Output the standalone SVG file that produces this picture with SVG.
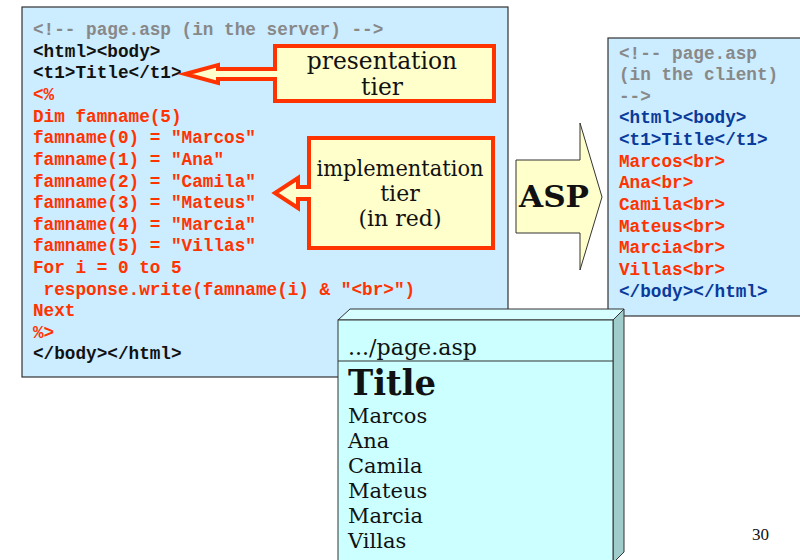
<svg xmlns="http://www.w3.org/2000/svg" width="800" height="560" viewBox="0 0 800 560">
<style>
.panel{fill:#CCECFF;stroke:#333;stroke-width:1.2}
.code{font-family:"Liberation Mono",monospace;font-weight:bold;font-size:17.7px}
.gray{fill:#888}
.blk{fill:#111}
.red{fill:#FF3300}
.blue{fill:#0A3A9A}
.callout{fill:#FFFFCC;stroke:#FF3300;stroke-width:4;stroke-linejoin:miter}
.ser{font-family:"DejaVu Serif","Liberation Serif",serif;fill:#111}
</style>
<rect width="800" height="560" fill="#fff"/>
<g id="server-panel">
<rect class="panel" x="22" y="7" width="486" height="370"/>
<g class="code">
<text x="33" y="35" class="gray">&lt;!-- page.asp (in the server) --&gt;</text>
<text x="33" y="57" class="blk">&lt;html&gt;&lt;body&gt;</text>
<text x="33" y="78" class="blk">&lt;t1&gt;Title&lt;/t1&gt;</text>
<text x="33" y="100" class="red">&lt;%</text>
<text x="33" y="122" class="red">Dim famname(5)</text>
<text x="33" y="143" class="red">famname(0) = "Marcos"</text>
<text x="33" y="165" class="red">famname(1) = "Ana"</text>
<text x="33" y="187" class="red">famname(2) = "Camila"</text>
<text x="33" y="208" class="red">famname(3) = "Mateus"</text>
<text x="33" y="230" class="red">famname(4) = "Marcia"</text>
<text x="33" y="251" class="red">famname(5) = "Villas"</text>
<text x="33" y="273" class="red">For i = 0 to 5</text>
<text x="33" y="295" class="red" xml:space="preserve"> response.write(famname(i) &amp; "&lt;br&gt;")</text>
<text x="33" y="316" class="red">Next</text>
<text x="33" y="338" class="red">%&gt;</text>
<text x="33" y="359" class="blk">&lt;/body&gt;&lt;/html&gt;</text>
</g>
</g>
<g id="client-panel">
<rect class="panel" x="608" y="38" width="200" height="278"/>
<g class="code">
<text x="619" y="59" class="gray">&lt;!-- page.asp</text>
<text x="619" y="80" class="gray">(in the client)</text>
<text x="619" y="102" class="gray">--&gt;</text>
<text x="619" y="123" class="blue">&lt;html&gt;&lt;body&gt;</text>
<text x="619" y="145" class="blue">&lt;t1&gt;Title&lt;/t1&gt;</text>
<text x="619" y="167" class="red">Marcos&lt;br&gt;</text>
<text x="619" y="188" class="red">Ana&lt;br&gt;</text>
<text x="619" y="210" class="red">Camila&lt;br&gt;</text>
<text x="619" y="232" class="red">Mateus&lt;br&gt;</text>
<text x="619" y="253" class="red">Marcia&lt;br&gt;</text>
<text x="619" y="275" class="red">Villas&lt;br&gt;</text>
<text x="619" y="297" class="blue">&lt;/body&gt;&lt;/html&gt;</text>
</g>
</g>
<g id="connectors">
<g id="presentation-tier">
<path class="callout" d="M275,46 H494 V101 H275 V79 H218 V83 L185,74 L218,65 V69 H275 Z"/>
<text class="ser" x="382" y="69" font-size="23.4" text-anchor="middle">presentation</text>
<text class="ser" x="382" y="95" font-size="23.4" text-anchor="middle">tier</text>
</g>
<g id="implementation-tier">
<path class="callout" d="M309,138 H493 V248 H309 V199 H298 V208 L275,193 L298,178 V187 H309 Z"/>
<text class="ser" x="400" y="176" font-size="22" text-anchor="middle" textLength="167" lengthAdjust="spacingAndGlyphs">implementation</text>
<text class="ser" x="400" y="201" font-size="22" text-anchor="middle">tier</text>
<text class="ser" x="400" y="226" font-size="22" text-anchor="middle">(in red)</text>
</g>
<g id="asp-arrow">
<path d="M516,160 H580 V123 L602,197 L580,270 V233 H516 Z" fill="#FFFFCC" stroke="#333" stroke-width="1"/>
<text class="ser" x="519" y="207" font-size="30" font-weight="bold" textLength="70" lengthAdjust="spacingAndGlyphs">ASP</text>
</g>
</g>
<g id="browser">
<path d="M338,320 L350,309 H624 L613,320 Z" fill="#D8FFFF" stroke="#333" stroke-width="1"/>
<path d="M613,320 L624,309 V552 L613,563 Z" fill="#A0CCCC" stroke="#333" stroke-width="1"/>
<rect x="338" y="320" width="275" height="245" fill="#CCFFFF" stroke="#333" stroke-width="1"/>
<line x1="338" y1="361" x2="613" y2="361" stroke="#333" stroke-width="1"/>
<text class="ser" x="348" y="355" font-size="22" textLength="129" lengthAdjust="spacingAndGlyphs">.../page.asp</text>
<text class="ser" x="348" y="395" font-size="36" font-weight="bold" textLength="88" lengthAdjust="spacingAndGlyphs">Title</text>
<text class="ser" x="348" y="423" font-size="21">Marcos</text>
<text class="ser" x="348" y="448" font-size="21">Ana</text>
<text class="ser" x="348" y="473" font-size="21">Camila</text>
<text class="ser" x="348" y="498" font-size="21">Mateus</text>
<text class="ser" x="348" y="523" font-size="21">Marcia</text>
<text class="ser" x="348" y="548" font-size="21">Villas</text>
</g>
<text id="page-number" x="752" y="540" font-family="Liberation Serif,serif" font-size="17" fill="#111">30</text>
</svg>
